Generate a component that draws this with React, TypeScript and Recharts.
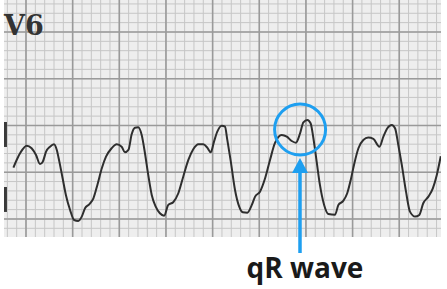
import React from "react";
import { LineChart, Line, XAxis, YAxis, ReferenceLine, ReferenceArea, ReferenceDot } from "recharts";

// ECG lead V6 — time in seconds, amplitude in mV
const time = [
  0.146, 0.16, 0.177, 0.203, 0.224, 0.243, 0.26, 0.272, 0.286, 0.303, 0.32, 0.332, 0.343, 0.357, 0.371,
  0.389, 0.406, 0.424, 0.439, 0.453, 0.471, 0.489, 0.506, 0.525, 0.543, 0.567, 0.589, 0.61, 0.624, 0.639,
  0.653, 0.667, 0.681, 0.696, 0.71, 0.724, 0.739, 0.756, 0.774, 0.792, 0.81, 0.831, 0.853, 0.874, 0.896,
  0.917, 0.939, 0.96, 0.977, 0.992, 1.006, 1.02, 1.039, 1.053, 1.063, 1.078, 1.096, 1.114, 1.129, 1.149,
  1.168, 1.182, 1.203, 1.225, 1.246, 1.267, 1.296, 1.318, 1.339, 1.357, 1.375, 1.389, 1.406, 1.42, 1.432,
  1.446, 1.46, 1.478, 1.496, 1.525, 1.539, 1.56, 1.577, 1.592, 1.606, 1.625, 1.646, 1.667, 1.689, 1.715,
  1.732, 1.749, 1.768, 1.782, 1.796, 1.811, 1.829, 1.846, 1.868, 1.886, 1.903, 1.925, 1.944, 1.961, 1.978,
];
const voltage = [
  -0.451, -0.369, -0.287, -0.216, -0.244, -0.316, -0.412, -0.387, -0.28, -0.227, -0.201, -0.262, -0.387, -0.565, -0.743,
  -0.904, -1.011, -1.021, -0.975, -0.886, -0.843, -0.779, -0.636, -0.458, -0.334, -0.244, -0.201, -0.227, -0.287, -0.262,
  -0.094, -0.024, -0.019, -0.102, -0.297, -0.529, -0.743, -0.868, -0.939, -0.965, -0.85, -0.821, -0.725, -0.548, -0.369,
  -0.255, -0.201, -0.201, -0.237, -0.287, -0.173, -0.066, -0.002, -0.013, -0.155, -0.387, -0.69, -0.868, -0.928, -0.933,
  -0.85, -0.761, -0.708, -0.565, -0.369, -0.19, -0.102, -0.12, -0.166, -0.184, -0.083, 0.034, 0.059, 0.024, -0.137,
  -0.387, -0.636, -0.85, -0.947, -0.954, -0.85, -0.807, -0.725, -0.583, -0.422, -0.244, -0.155, -0.13, -0.144, -0.227,
  -0.12, -0.03, 0.005, -0.03, -0.209, -0.422, -0.708, -0.922, -0.975, -0.957, -0.832, -0.761, -0.672, -0.529, -0.33,
];

// calibration marks and annotation target
const calibration = [
  { t: 0.112, from: 0.037, to: -0.23 },
  { t: 0.112, from: -0.658, to: -0.925 },
];
const qrTarget = { t: 1.375, v: -0.043 };
const leadLabel = "V6";
const annotationText = "qR wave";

const X_DOMAIN: [number, number] = [0.1057, 1.979];
const Y_DOMAIN: [number, number] = [-1.193, 1.342];

const minorX = Array.from({ length: 47 }, (_, i) => +(0.12 + i * 0.04).toFixed(2));
const majorX = Array.from({ length: 9 }, (_, i) => +(0.2 + i * 0.2).toFixed(2));
const minorY = Array.from({ length: 25 }, (_, i) => +(-1.1 + i * 0.1).toFixed(2));
const majorY = [-1, -0.5, 0, 0.5, 1];

const data = time.map((t, i) => ({ t, v: voltage[i] }));

const BLUE = "#1E9FF0";

export default function App() {
  return (
    <div style={{ position: "absolute", left: 0, top: 0, width: 447, height: 289, background: "#ffffff" }}>
      <LineChart width={447} height={289} data={data} margin={{ top: 0, right: 6, bottom: 52, left: 4 }}>
        <XAxis type="number" dataKey="t" domain={X_DOMAIN} hide allowDataOverflow />
        <YAxis type="number" domain={Y_DOMAIN} hide allowDataOverflow />
        <ReferenceArea x1={X_DOMAIN[0]} x2={X_DOMAIN[1]} y1={Y_DOMAIN[0]} y2={Y_DOMAIN[1]} fill="#eeeeee" fillOpacity={1} stroke="none" />
        {minorX.map((x) => (
          <ReferenceLine key={"mx" + x} x={x} stroke="#c6c6c6" strokeWidth={1} />
        ))}
        {minorY.map((y) => (
          <ReferenceLine key={"my" + y} y={y} stroke="#c6c6c6" strokeWidth={1} />
        ))}
        {majorX.map((x) => (
          <ReferenceLine key={"Mx" + x} x={x} stroke="#9a9a9a" strokeWidth={1.6} />
        ))}
        {majorY.map((y) => (
          <ReferenceLine key={"My" + y} y={y} stroke="#9a9a9a" strokeWidth={1.6} />
        ))}
        {calibration.map((c, i) => (
          <ReferenceLine
            key={"cal" + i}
            segment={[{ x: c.t, y: c.from }, { x: c.t, y: c.to }]}
            stroke="#3a3a3a"
            strokeWidth={3}
          />
        ))}
        <Line type="monotone" dataKey="v" stroke="#2e2e2e" strokeWidth={2} dot={false} isAnimationActive={false} />
        <ReferenceDot x={qrTarget.t} y={qrTarget.v} r={25.5} fill="none" stroke={BLUE} strokeWidth={3} />
      </LineChart>
      <svg width={447} height={289} style={{ position: "absolute", left: 0, top: 0, pointerEvents: "none" }}>
        <text x={4} y={35} fontFamily="'DejaVu Serif', serif" fontWeight={700} fontSize={27} fill="#333333">
          {leadLabel}
        </text>
        <line x1={300} y1={170} x2={300} y2={253} stroke={BLUE} strokeWidth={3.5} />
        <polygon points="300,158 292,173 308,173" fill={BLUE} />
        <text
          x={305}
          y={278}
          textAnchor="middle"
          fontFamily="'Open Sans', sans-serif"
          fontWeight={700}
          fontSize={28}
          fill="#1a1a1a"
        >
          {annotationText}
        </text>
      </svg>
    </div>
  );
}
